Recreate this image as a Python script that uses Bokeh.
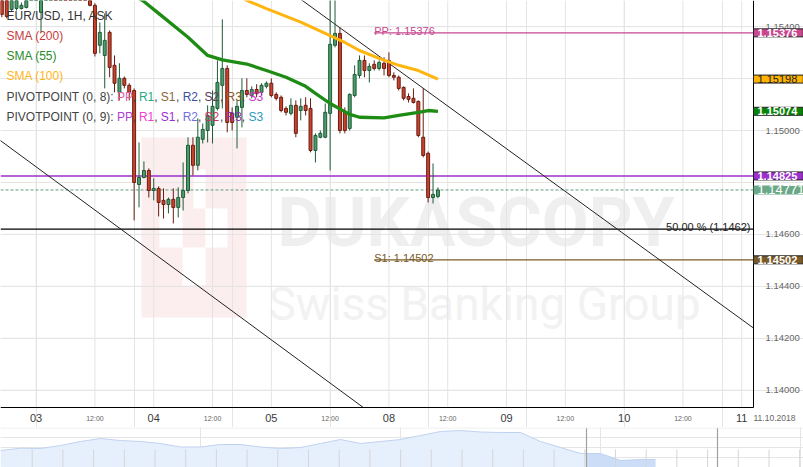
import numpy as np
from bokeh.plotting import figure
from bokeh.models import (ColumnDataSource, Range1d, LinearAxis, FixedTicker, Label,
                          PrintfTickFormatter)
from bokeh.layouts import column
from bokeh.embed import file_html
from bokeh.resources import INLINE
from bokeh.core.properties import value

# ---------------- data (hour index: 0 = 2018-10-03 00:00, trading hours only) ----------------
hours = list(range(-7, 83))
open_ = [1.15520, 1.15509, 1.15466, 1.15470, 1.15470, 1.15474, 1.15513, 1.15524, 1.15455, 1.15513,
         1.15547, 1.15570, 1.15555, 1.15578, 1.15563, 1.15540, 1.15555, 1.15524, 1.15509, 1.15482,
         1.15328, 1.15289, 1.15378, 1.15251, 1.15147, 1.15201, 1.15174, 1.15154, 1.14792, 1.14819,
         1.14846, 1.14769, 1.14777, 1.14731, 1.14715, 1.14735, 1.14704, 1.14742, 1.14769, 1.14943,
         1.14866, 1.14966, 1.15000, 1.15020, 1.15085, 1.15174, 1.15239, 1.15066, 1.15051, 1.15089,
         1.15154, 1.15135, 1.15158, 1.15147, 1.15170, 1.15182, 1.15139, 1.15128, 1.15085, 1.15066,
         1.15097, 1.15077, 1.15097, 1.15085, 1.14923, 1.14974, 1.14974, 1.15066, 1.15328, 1.15374,
         1.15070, 1.15008, 1.15135, 1.15212, 1.15270, 1.15231, 1.15255, 1.15239, 1.15259, 1.15270,
         1.15212, 1.15205, 1.15166, 1.15131, 1.15124, 1.15112, 1.14974, 1.14912, 1.14742, 1.14746]
high = [1.15540, 1.15520, 1.15513, 1.15516, 1.15493, 1.15516, 1.15540, 1.15555, 1.15532, 1.15563,
        1.15586, 1.15586, 1.15593, 1.15597, 1.15574, 1.15570, 1.15563, 1.15536, 1.15516, 1.15490,
        1.15416, 1.15451, 1.15385, 1.15289, 1.15259, 1.15208, 1.15182, 1.15162, 1.14954, 1.14881,
        1.14854, 1.14816, 1.14785, 1.14777, 1.14742, 1.14777, 1.14781, 1.14877, 1.14974, 1.14974,
        1.15047, 1.15027, 1.15097, 1.15154, 1.15270, 1.15428, 1.15251, 1.15089, 1.15116, 1.15201,
        1.15201, 1.15170, 1.15178, 1.15182, 1.15189, 1.15201, 1.15147, 1.15135, 1.15093, 1.15124,
        1.15116, 1.15124, 1.15128, 1.15124, 1.14989, 1.15000, 1.15104, 1.15513, 1.15520, 1.15397,
        1.15089, 1.15143, 1.15251, 1.15289, 1.15289, 1.15259, 1.15270, 1.15270, 1.15282, 1.15301,
        1.15224, 1.15212, 1.15170, 1.15143, 1.15162, 1.15116, 1.15162, 1.14919, 1.14873, 1.14781]
low = [1.15436, 1.15432, 1.15459, 1.15462, 1.15466, 1.15470, 1.15505, 1.15513, 1.15378, 1.15505,
       1.15536, 1.15543, 1.15547, 1.15551, 1.15532, 1.15528, 1.15513, 1.15505, 1.15478, 1.15285,
       1.15297, 1.15162, 1.15205, 1.15147, 1.15116, 1.15162, 1.15116, 1.14654, 1.14704, 1.14816,
       1.14742, 1.14731, 1.14669, 1.14661, 1.14681, 1.14642, 1.14665, 1.14692, 1.14758, 1.14827,
       1.14846, 1.14950, 1.14954, 1.14950, 1.15077, 1.15085, 1.14993, 1.15000, 1.14931, 1.15012,
       1.15128, 1.15124, 1.15128, 1.15135, 1.15162, 1.15128, 1.15116, 1.15070, 1.15058, 1.15058,
       1.14974, 1.15039, 1.15058, 1.14916, 1.14877, 1.14970, 1.14970, 1.14846, 1.15320, 1.14989,
       1.14989, 1.15000, 1.15128, 1.15201, 1.15205, 1.15185, 1.15231, 1.15231, 1.15212, 1.15205,
       1.15193, 1.15154, 1.15116, 1.15108, 1.15104, 1.14974, 1.14897, 1.14723, 1.14719, 1.14739]
close = [1.15447, 1.15439, 1.15501, 1.15501, 1.15482, 1.15505, 1.15524, 1.15540, 1.15513, 1.15547,
         1.15570, 1.15555, 1.15578, 1.15563, 1.15540, 1.15555, 1.15524, 1.15509, 1.15482, 1.15297,
         1.15378, 1.15347, 1.15243, 1.15182, 1.15201, 1.15174, 1.15147, 1.14800, 1.14819, 1.14846,
         1.14769, 1.14777, 1.14723, 1.14715, 1.14735, 1.14704, 1.14742, 1.14769, 1.14943, 1.14866,
         1.14974, 1.15004, 1.15058, 1.15093, 1.15185, 1.15239, 1.15031, 1.15031, 1.15093, 1.15154,
         1.15139, 1.15158, 1.15143, 1.15174, 1.15182, 1.15135, 1.15124, 1.15077, 1.15070, 1.15097,
         1.14989, 1.15093, 1.15077, 1.14923, 1.14981, 1.14989, 1.15070, 1.15332, 1.15374, 1.15000,
         1.15000, 1.15139, 1.15216, 1.15270, 1.15231, 1.15247, 1.15239, 1.15262, 1.15239, 1.15212,
         1.15205, 1.15162, 1.15124, 1.15120, 1.15108, 1.14981, 1.14904, 1.14742, 1.14754, 1.14771]

sma55_h = [20, 22, 25, 31, 35, 38, 43, 47, 51, 55, 57, 60, 64, 66, 71, 74, 78, 80, 82]
sma55_v = [1.15520, 1.15497, 1.15451, 1.15359, 1.15289, 1.15272, 1.15256, 1.15231, 1.15205, 1.15170,
           1.15143, 1.15104, 1.15062, 1.15051, 1.15049, 1.15058, 1.15070, 1.15077, 1.15074]
sma100_h = [41, 43, 47, 54, 59, 63, 66, 70, 74, 78, 82]
sma100_v = [1.15524, 1.15501, 1.15469, 1.15417, 1.15374, 1.15339, 1.15308, 1.15278, 1.15251, 1.15231, 1.15198]

trend_upper_h = [50, 150]
trend_upper_v = [1.15560, 1.14190]
trend_lower_h = [-10, 90]
trend_lower_v = [1.14999, 1.13611]

pivot_start = 69
pp_value = 1.15376
s1_value = 1.14502
pp9_value = 1.14825
last_value = 1.14771
fib50_value = 1.1462

y_ticks = [1.140, 1.142, 1.144, 1.146, 1.148, 1.150, 1.152, 1.154]
y_hidden = [1.148, 1.152]          # tick labels covered by the price boxes
day_ticks = [0, 24, 48, 72, 96, 120, 144]
day_labels = ["03", "04", "05", "08", "09", "10", "11"]
half_ticks = [12, 36, 60, 84, 108, 132]
half_label = "12:00"
date_label = "11.10.2018"

nav_i = list(range(33)) + [32.75]
nav_v = [1.1434, 1.14386, 1.1438, 1.1444, 1.1452, 1.1458, 1.1454, 1.1452, 1.1448, 1.1441,
         1.1441, 1.1446, 1.1446, 1.1441, 1.1438, 1.1440, 1.1448, 1.1456, 1.1448, 1.1452,
         1.1456, 1.1464, 1.1472, 1.1474, 1.1471, 1.1470, 1.1470, 1.1452, 1.1440, 1.1428,
         1.1428, 1.1414, 1.1416, 1.1416]

# ---------------- layout ----------------
W, H_MAIN, H_NAV = 803, 427, 40
AX_PX, AY_PX = 753, 407          # pixel position of the price axis / time axis
XL, XA = -7.27, 146.4            # x at left edge and at the price axis
YT, YA = 1.155006, 1.139334      # y at top edge and at the time axis
xpp = (XA - XL) / AX_PX
ypp = (YT - YA) / AY_PX
XR = XL + W * xpp
YB = YT - H_MAIN * ypp


def dx(px):
    return XL + px * xpp


def dy(py):
    return YT - py * ypp


p = figure(frame_width=W, frame_height=H_MAIN, x_range=Range1d(XL, XR), y_range=Range1d(YB, YT),
           x_axis_location=None, y_axis_location=None, toolbar_location=None, output_backend="svg",
           min_border=0, outline_line_color=None, background_fill_color="white", border_fill_color="white")

# watermark
p.quad(left=[dx(141)], right=[dx(246)], top=[dy(137)], bottom=[dy(317)],
       fill_color="#FCEEEE", line_color=None, level="image")
p.quad(left=[dx(193), dx(159), dx(205), dx(182)], right=[dx(205), dx(182), dx(227), dx(205)],
       top=[dy(169), dy(208), dy(208), dy(247)], bottom=[dy(208), dy(247), dy(247), dy(285)],
       fill_color="white", line_color=None, level="image")
p.text(x=[dx(277)], y=[dy(222)], text=["DUKASCOPY"], text_font=value("Roboto"),
       text_font_style="bold", text_font_size="68px", text_color="#EFEFEF", text_baseline="alphabetic",
       level="image")
p.text(x=[dx(268)], y=[dy(303)], text=["Swiss Banking Group"], text_font=value("Roboto"),
       text_font_size="46px", text_color="#F2F2F2", text_baseline="alphabetic", level="image")

# grid lines (stop at the axes)
x_grid = sorted(day_ticks + half_ticks)
p.segment(x0=x_grid, y0=[YA] * len(x_grid), x1=x_grid, y1=[YT] * len(x_grid),
          line_color="#E4E4E4", line_width=1, level="underlay")
p.segment(x0=[XL] * len(y_ticks), y0=y_ticks, x1=[XA] * len(y_ticks), y1=y_ticks,
          line_color="#E4E4E4", line_width=1, level="underlay")

# axes drawn at fixed locations inside the canvas
yax = LinearAxis(ticker=FixedTicker(ticks=y_ticks), formatter=PrintfTickFormatter(format="%.5f"),
                 fixed_location=XA, bounds=(YA, YT),
                 major_label_overrides={t: "" for t in y_hidden},
                 axis_line_color="black", major_tick_line_color=None, minor_tick_line_color=None,
                 major_label_text_color="#666666", major_label_text_font_size="9.5px",
                 major_label_text_font="Liberation Sans", major_label_standoff=6)
p.add_layout(yax, "right")
xax_day = LinearAxis(ticker=FixedTicker(ticks=day_ticks), fixed_location=YA, bounds=(XL, XA),
                     major_label_overrides={t: lab for t, lab in zip(day_ticks, day_labels)},
                     axis_line_color="black", major_tick_line_color=None, minor_tick_line_color=None,
                     major_label_text_color="#3A3A3A", major_label_text_font_size="11px",
                     major_label_text_font="Liberation Sans", major_label_standoff=0)
p.add_layout(xax_day, "below")
xax_half = LinearAxis(ticker=FixedTicker(ticks=half_ticks), fixed_location=YA, bounds=(XL, XA),
                      major_label_overrides={t: half_label for t in half_ticks},
                      axis_line_color=None, major_tick_line_color=None, minor_tick_line_color=None,
                      major_label_text_color="#666666", major_label_text_font_size="7px",
                      major_label_text_font="Liberation Sans", major_label_standoff=1)
p.add_layout(xax_half, "below")
p.add_layout(Label(x=XA, y=dy(417.7), text=date_label, text_align="left", text_baseline="middle",
                   text_color="#666666", text_font="Liberation Sans", text_font_size="8.5px"))

# horizontal levels
p.segment(x0=[XL], y0=[pp9_value], x1=[XA], y1=[pp9_value], line_color="#9B30CC", line_width=1.5)
p.segment(x0=[XL], y0=[last_value], x1=[XA], y1=[last_value], line_color="#5E9C7C", line_width=1,
          line_dash="3 2")
p.segment(x0=[XL], y0=[fib50_value], x1=[XA], y1=[fib50_value], line_color="black", line_width=1.2)
p.segment(x0=[pivot_start], y0=[pp_value], x1=[XA], y1=[pp_value], line_color="#C8478F", line_width=1.2)
p.segment(x0=[pivot_start], y0=[s1_value], x1=[XA], y1=[s1_value], line_color="#7A5A28", line_width=1.2)
p.text(x=[pivot_start], y=[pp_value], text=[f"PP: {pp_value:.5f}"], text_color="#C8478F",
       text_font=value("Liberation Sans"), text_font_size="11px", text_baseline="alphabetic", y_offset=-2)
p.text(x=[pivot_start], y=[s1_value], text=[f"S1: {s1_value:.5f}"], text_color="#7A5A28",
       text_font=value("Liberation Sans"), text_font_size="11px", text_baseline="alphabetic", y_offset=-2)
p.add_layout(Label(x=dx(750), y=fib50_value, text=f"50.00 % ({fib50_value:.4f})",
                   text_align="right", text_baseline="alphabetic", y_offset=2, text_color="#222222",
                   text_font="Liberation Sans", text_font_size="11px"))

# trend lines, clipped at the axes
u_end = trend_upper_v[0] + (trend_upper_v[1] - trend_upper_v[0]) * (XA - trend_upper_h[0]) / (trend_upper_h[1] - trend_upper_h[0])
p.line([trend_upper_h[0], XA], [trend_upper_v[0], u_end], line_color="#222222", line_width=1)
l_end = trend_lower_h[0] + (YA - trend_lower_v[0]) * (trend_lower_h[1] - trend_lower_h[0]) / (trend_lower_v[1] - trend_lower_v[0])
p.line([trend_lower_h[0], l_end], [trend_lower_v[0], YA], line_color="#222222", line_width=1)

# candles
o = np.array(open_); c = np.array(close)
up = c >= o
src = ColumnDataSource(dict(
    h=hours, high=high, low=low,
    top=np.maximum(o, c), bottom=np.minimum(o, c),
    fill=np.where(up, "#4E9B6D", "#C9432C"),
    edge=np.where(up, "#1D5B36", "#6A1C12"),
))
p.segment(x0="h", y0="low", x1="h", y1="high", line_color="edge", line_width=1, source=src)
p.vbar(x="h", width=0.6, top="top", bottom="bottom", fill_color="fill", line_color="edge", line_width=1, source=src)

# moving averages
p.line(sma55_h, sma55_v, line_color="#1E8C14", line_width=3.3)
p.line(sma100_h, sma100_v, line_color="#FFB50D", line_width=3)

# price boxes on the price axis
def price_box(price, bg, fg="white", border="#222222", size="11px", style="bold"):
    p.add_layout(Label(x=XA, y=price, text=f"{price:.5f}",
                       text_color=fg, text_font="Liberation Sans", text_font_size=size, text_font_style=style,
                       text_baseline="middle", text_align="left",
                       background_fill_color=bg, border_line_color=border,
                       padding=dict(left=4, right=6, top=0, bottom=0)))

price_box(pp_value, "#C8478F")
price_box(sma100_v[-1], "#FFB400", fg="#222222", style="normal")
price_box(sma55_v[-1], "#0A820A")
price_box(pp9_value, "#9B30CC")
price_box(last_value, "#6AA888", border=None, size="13px", style="normal")
price_box(s1_value, "#7A5A28")

# legend texts
def sy(py):
    return H_MAIN - py

legend_rows = [("EUR/USD, 1H, ASK", "#333333", 15.7), ("SMA (200)", "#C83C3C", 35.5),
               ("SMA (55)", "#2A8A2A", 55.5), ("SMA (100)", "#FFB71B", 75.5)]
for txt, col, yy in legend_rows:
    p.add_layout(Label(x=6, y=sy(yy), x_units="screen", y_units="screen", text=txt, text_color=col,
                       text_font="Liberation Sans", text_font_size="12px", text_baseline="middle"))

piv_tokens = ["PP", "R1", "S1", "R2", "S2", "R3", "S3"]
piv8_colors = ["#E05AA0", "#2BAA80", "#8A6A3A", "#3A4FA0", "#5C3A5C", "#8A5A2A", "#D030D0"]
piv9_colors = ["#B040D0", "#F040D0", "#9A30D0", "#7070E0", "#D0306A", "#9030B0", "#2A9AC0"]
for head, cols, yy in [("PIVOTPOINT (0, 8):", piv8_colors, 96), ("PIVOTPOINT (0, 9):", piv9_colors, 116)]:
    p.add_layout(Label(x=6, y=sy(yy), x_units="screen", y_units="screen", text=head, text_color="#444444",
                       text_font="Liberation Sans", text_font_size="12px", text_baseline="middle"))
    x0 = 116.5
    for k, (tok, col) in enumerate(zip(piv_tokens, cols)):
        p.add_layout(Label(x=x0 + 21.9 * k, y=sy(yy), x_units="screen", y_units="screen", text=tok,
                           text_color=col, text_font="Liberation Sans", text_font_size="12px",
                           text_baseline="middle"))
        if k < len(piv_tokens) - 1:
            p.add_layout(Label(x=x0 + 21.9 * k + 15.3, y=sy(yy), x_units="screen", y_units="screen", text=",",
                               text_color="#444444", text_font="Liberation Sans", text_font_size="12px",
                               text_baseline="middle"))

# ---------------- navigator ----------------
nav = figure(frame_width=W, frame_height=H_NAV, x_range=Range1d(0, W / 20.0), y_range=Range1d(1.1400, 1.1480),
             toolbar_location=None, output_backend="svg", min_border=0,
             x_axis_location=None, y_axis_location=None, outline_line_color=None,
             background_fill_color="white", border_fill_color="white")
nav.varea(x=nav_i, y1=[1.1400] * len(nav_i), y2=nav_v, fill_color="#E6EFFC")
sel_x = np.linspace(29.3, 32.75, 12)
nav.varea(x=sel_x, y1=[1.1400] * len(sel_x), y2=np.interp(sel_x, nav_i, nav_v), fill_color="#CCDDF7")
nav.line(nav_i, nav_v, line_color="#BFD2F0", line_width=1)
tick_x = np.arange(1.585, W / 20.0, 1.535)
nav.segment(x0=tick_x, y0=[1.1400] * len(tick_x), x1=tick_x, y1=[1.1436] * len(tick_x),
            line_color="#D6D6D6", line_width=1)
nav.segment(x0=[29.3, 35.85], y0=[1.1400, 1.1400], x1=[29.3, 35.85], y1=[1.1480, 1.1480],
            line_color="#A0A0A0", line_width=1.2)
nav.segment(x0=[0], y0=[1.1479], x1=[W / 20.0], y1=[1.1479], line_color="#EBEBEB", line_width=1)

layout = column(p, nav, spacing=0)
open("out.html", "w").write(file_html(layout, INLINE))
